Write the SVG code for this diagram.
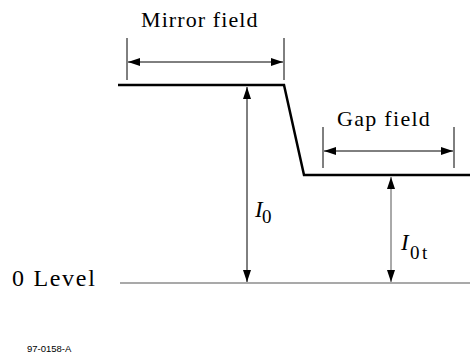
<svg xmlns="http://www.w3.org/2000/svg" width="470" height="363" viewBox="0 0 470 363">
<style>
.lbl{font-family:'Liberation Serif','Times New Roman',serif;font-size:22px;fill:#000;letter-spacing:1.1px}
.sym{font-family:'Liberation Serif','Times New Roman',serif;font-size:23px;fill:#000}
.thin{stroke:#000;stroke-width:1;fill:none}
.dim{stroke:#000;stroke-width:1;fill:none;marker-start:url(#ah);marker-end:url(#ah)}
.grey{stroke:#555;stroke-width:1.2;fill:none}
</style>
<defs>
<marker id="ah" viewBox="0 0 12 8" refX="12" refY="4" markerWidth="12" markerHeight="8" markerUnits="userSpaceOnUse" orient="auto-start-reverse">
<path d="M0,0 L12,4 L0,8 Z" fill="#000"/>
</marker>
</defs>
<g id="profile">
<polyline points="118,85 284,85 304,175 470,175" fill="none" stroke="#000" stroke-width="2.5"/>
</g>
<g id="zero-level">
<line x1="120" y1="283" x2="470" y2="283" class="grey"/>
<text class="lbl" x="12" y="286" style="font-size:24px;letter-spacing:1.7px">0 Level</text>
</g>
<g id="mirror-field">
<text class="lbl" x="141" y="27">Mirror field</text>
<line x1="127" y1="38" x2="127" y2="80" class="thin"/>
<line x1="284" y1="38" x2="284" y2="80" class="thin"/>
</g>
<g id="gap-field">
<text class="lbl" x="337" y="126" style="letter-spacing:1.3px">Gap field</text>
<line x1="323" y1="127" x2="323" y2="168" class="thin"/>
<line x1="454" y1="127" x2="454" y2="168" class="thin"/>
</g>
<g id="I0-label">
<text class="sym" x="255" y="217" font-style="italic">I</text>
<text class="sym" x="262" y="223" style="font-size:19px">0</text>
</g>
<g id="Iot-label">
<text class="sym" x="401" y="250" font-style="italic">I</text>
<text class="sym" x="410" y="259" style="font-size:19px;letter-spacing:2.5px">0t</text>
</g>
<g id="connectors">
<line x1="128" y1="62" x2="283" y2="62" class="dim"/>
<line x1="324" y1="151" x2="453" y2="151" class="dim"/>
<line x1="247" y1="87" x2="247" y2="282" class="dim"/>
<line x1="391" y1="177" x2="391" y2="282" class="dim" style="stroke:#555"/>
</g>
<text x="27" y="352" font-family="'Liberation Sans',Arial,sans-serif" font-size="9.5" fill="#000">97-0158-A</text>
</svg>
